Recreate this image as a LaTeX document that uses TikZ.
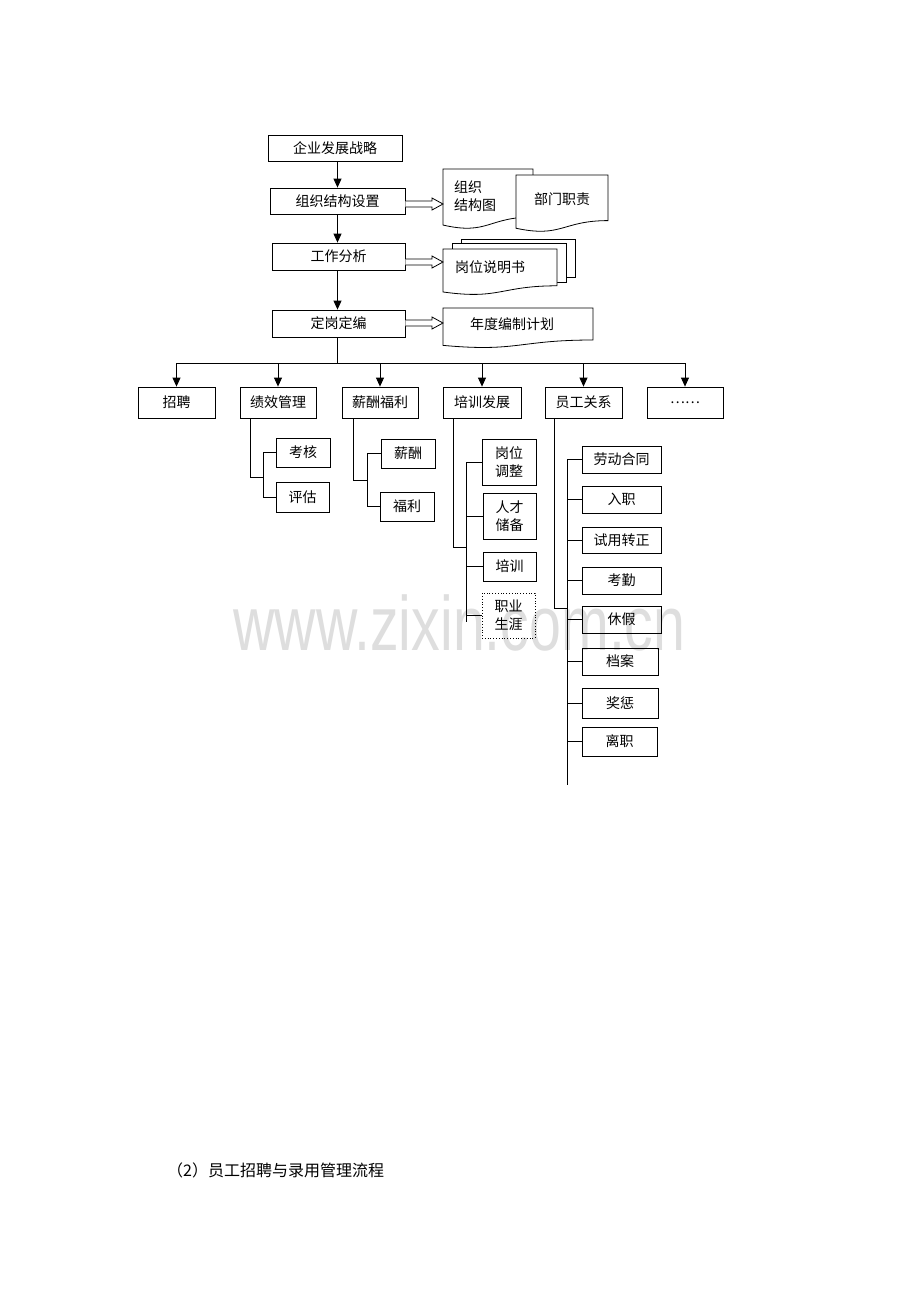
\documentclass[tikz,border=0pt]{standalone}
\usepackage{fontspec}
\newfontfamily\cjk{Noto Sans CJK SC}
\newfontfamily\wmfont{Liberation Sans}
\usetikzlibrary{arrows.meta,calc}
\newcommand\hollowarr[2]{%
  \draw[harrow] ($(#1.east |- #2)+(0,-3)$) -- ($(#2)+(-11,-3)$) -- ($(#2)+(-11,-6)$) -- (#2) -- ($(#2)+(-11,6)$) -- ($(#2)+(-11,3)$) -- ($(#1.east |- #2)+(0,3)$);}
\newcommand\docshape[4]{%
  \draw[docline] (#1,#2) -- (#3,#2) -- ({#3},{#2+0.8*#4}) .. controls ({(#1+#3)/2},{#2+0.8*#4}) and ({(#1+#3)/2},{#2+1.107*#4}) .. ({#1},{#2+0.934*#4}) -- cycle;}
\begin{document}
\begin{tikzpicture}[x=1pt,y=-1pt,
  ln/.style={line width=0.8pt},
  box/.style={draw, line width=0.8pt, inner sep=0pt, font=\cjk\fontsize{14}{18}\selectfont, align=center},
  arr/.style={line width=0.8pt, -{Triangle[length=9pt,width=8pt]}},
  docline/.style={draw, line width=0.8pt, fill=white},
  harrow/.style={line width=0.8pt, fill=white},
  lbl/.style={font=\cjk\fontsize{14}{18}\selectfont, inner sep=0pt, align=center},
]
\useasboundingbox[fill=white] (0,0) rectangle (920,1302);

% watermark
\node[font=\wmfont\fontsize{77}{80}\selectfont, text=black!13, xscale=0.744, anchor=base, inner sep=0pt] (wm) at (459.5,650) {www.zixin.com.cn};

% main chain
\node[box, minimum width=134pt, minimum height=26pt] (s1) at (335,148) {企业发展战略};
\node[box, minimum width=135pt, minimum height=26pt] (s2) at (337.5,201) {组织结构设置};
\node[box, minimum width=133pt, minimum height=27pt] (s3) at (338.5,256.5) {工作分析};
\node[box, minimum width=133pt, minimum height=27pt] (s4) at (338.5,323.5) {定岗定编};

\draw[arr] (s1.south -| s2.north) -- (s2.north);
\draw[arr] (s2.south) -- (s2.south |- s3.north);
\draw[arr] (s3.south -| s2.south) -- (s4.north -| s2.south);

% documents
\docshape{443}{169}{533}{60}
\node[lbl, align=left, anchor=west] (orgt) at (454,196) {组织\\结构图};
\docshape{516}{175}{608}{57}
\node[lbl] (dept) at (562,199) {部门职责};

\draw[docline] (461,239) rectangle (575,277);
\draw[docline] (452,243) rectangle (566,282);
\docshape{443}{249}{557}{46}
\node[lbl] (jd) at (490,267) {岗位说明书};

\docshape{443}{308}{593}{40}
\node[lbl] (plan) at (512,324) {年度编制计划};

\coordinate (orgL) at (443,204);
\coordinate (jdL) at (443,262);
\coordinate (planL) at (443,323);
\hollowarr{s2}{orgL}
\hollowarr{s3}{jdL}
\hollowarr{s4}{planL}

% second level
\node[box, minimum width=77pt, minimum height=31pt] (r1) at (176.5,402.5) {招聘};
\node[box, minimum width=76pt, minimum height=31pt] (r2) at (278,402.5) {绩效管理};
\node[box, minimum width=76pt, minimum height=31pt] (r3) at (380,402.5) {薪酬福利};
\node[box, minimum width=78pt, minimum height=31pt] (r4) at (482,402.5) {培训发展};
\node[box, minimum width=77pt, minimum height=31pt] (r5) at (583.5,402.5) {员工关系};
\node[box, minimum width=76pt, minimum height=31pt] (r6) at (685,402.5) {……};

\coordinate (hub) at (337.5,363);
\draw[ln] (s4.south -| hub) -- (hub);
\draw[ln] (r1.north |- hub) -- (r6.north |- hub);
\foreach \n in {r1,r2,r3,r4,r5,r6} \draw[arr] (\n.north |- hub) -- (\n.north);

% 绩效管理
\node[box, minimum width=54pt, minimum height=29pt] (a1) at (303,452.5) {考核};
\node[box, minimum width=53pt, minimum height=30pt] (a2) at (302.5,497) {评估};
\coordinate (ajoin) at (263,477);
\draw[ln] ([xshift=-28pt]r2.south) |- (ajoin);
\draw[ln] (a1.west) -- (a1.west -| ajoin) -- (a2.west -| ajoin) -- (a2.west);

% 薪酬福利
\node[box, minimum width=54pt, minimum height=29pt] (b1) at (408,453.5) {薪酬};
\node[box, minimum width=54pt, minimum height=29pt] (b2) at (407,506.5) {福利};
\coordinate (bjoin) at (367,480);
\draw[ln] ([xshift=-27pt]r3.south) |- (bjoin);
\draw[ln] (b1.west) -- (b1.west -| bjoin) -- (b2.west -| bjoin) -- (b2.west);

% 培训发展
\node[box, minimum width=54pt, minimum height=46pt] (c1) at (509,462) {岗位\\调整};
\node[box, minimum width=53pt, minimum height=46pt] (c2) at (509.5,516) {人才\\储备};
\node[box, minimum width=53pt, minimum height=29pt] (c3) at (509.5,566.5) {培训};
\node[box, dotted, minimum width=53pt, minimum height=45pt] (c4) at (508.5,615.5) {职业\\生涯};
\coordinate (cjoin) at (466,547);
\coordinate (cend) at (466,622);
\draw[ln] ([xshift=-29pt]r4.south) |- (cjoin);
\draw[ln] (c1.west) -- (c1.west -| cjoin) -- (cend);
\foreach \n in {c2,c3,c4} \draw[ln] (\n.west) -- (\n.west -| cjoin);

% 员工关系
\node[box, minimum width=79pt, minimum height=27pt] (d1) at (621.5,459.5) {劳动合同};
\node[box, minimum width=79pt, minimum height=27pt] (d2) at (621.5,499.5) {入职};
\node[box, minimum width=79pt, minimum height=26pt] (d3) at (621.5,540) {试用转正};
\node[box, minimum width=79pt, minimum height=27pt] (d4) at (621.5,580.5) {考勤};
\node[box, minimum width=79pt, minimum height=27pt] (d5) at (621.5,619.5) {休假};
\node[box, minimum width=76pt, minimum height=27pt] (d6) at (620,661.5) {档案};
\node[box, minimum width=76pt, minimum height=30pt] (d7) at (620,703) {奖惩};
\node[box, minimum width=75pt, minimum height=29pt] (d8) at (619.5,741.5) {离职};
\coordinate (djoin) at (567,608);
\coordinate (dend) at (567,785);
\draw[ln] ([xshift=-29.5pt]r5.south) |- (djoin);
\draw[ln] (d1.west) -- (d1.west -| djoin) -- (dend);
\foreach \n in {d2,d3,d4,d5,d6,d7,d8} \draw[ln] (\n.west) -- (\n.west -| djoin);

% caption
\node[font=\cjk\fontsize{16}{18}\selectfont, anchor=west, inner sep=0pt] (cap) at (167,1170) {（2）员工招聘与录用管理流程};
\end{tikzpicture}
\end{document}
